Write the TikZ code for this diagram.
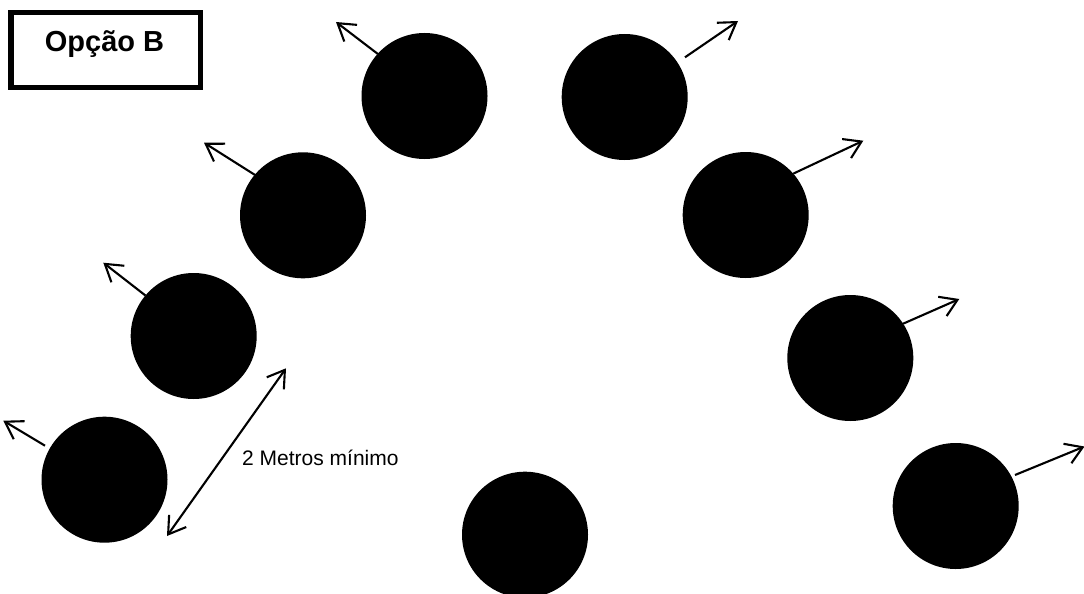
\documentclass[tikz,border=0pt]{standalone}
\usepackage{fontspec}
\setmainfont{Liberation Sans}
\usetikzlibrary{arrows.meta,calc}
\tikzset{
  barb/.tip={Straight Barb[length=16.5pt, width=21pt, line width=2.1pt]},
  seat/.style={circle, fill=black, minimum size=126pt, inner sep=0pt, outer sep=0pt},
  facing/.style={line width=2.1pt, -{barb}},
  span/.style={line width=2.1pt, {barb}-{barb}},
  titlebox/.style={draw, line width=5.5pt, minimum width=189.5pt, minimum height=74.5pt, inner sep=0pt},
  label/.style={inner sep=0pt, font=\fontsize{21}{25}\selectfont},
  title/.style={inner sep=0pt, font=\fontsize{29}{34}\selectfont\bfseries}
}
\begin{document}
\begin{tikzpicture}[x=1pt, y=-1pt]
  \useasboundingbox (0,0) rectangle (1084,594);

  % title box
  \node[titlebox] (box) at (105.5,50) {};
  \node[title, anchor=base] (name) at (104.5,51.5) {Opção B};

  % seats arranged on an arc
  \node[seat] (c1) at (424.5,96) {};
  \node[seat] (c2) at (624.7,97) {};
  \node[seat] (c3) at (303,215.3) {};
  \node[seat] (c4) at (745.7,215) {};
  \node[seat] (c5) at (193.7,336) {};
  \node[seat] (c6) at (850.3,358) {};
  \node[seat] (c7) at (104.5,479.7) {};
  \node[seat] (c8) at (525,534.7) {};
  \node[seat] (c9) at (955.7,506) {};

  % arrow tips showing facing direction
  \coordinate (t1) at (336,22);
  \coordinate (t2) at (738,21);
  \coordinate (t3) at (204,142.7);
  \coordinate (t4) at (863.3,140.7);
  \coordinate (t5) at (103.3,262.7);
  \coordinate (t6) at (959.3,299);
  \coordinate (t7) at (3.3,420.7);
  \coordinate (t9) at (1084.5,446.5);

  \draw[facing] (c1.138.5) -- (t1);
  \draw[facing] ($(c2.center)+(60.3,-39.7)$) -- (t2);
  \draw[facing] (c3.140) -- (t3);
  \draw[facing] (c4.41.8) -- (t4);
  \draw[facing] (c5.140.6) -- (t5);
  \draw[facing] (c6.33.7) -- (t6);
  \draw[facing] ($(c7.center)+(-59.5,-34)$) -- (t7);
  \draw[facing] ($(c9.center)+(59.3,-31)$) -- (t9);

  % minimum distance marker
  \coordinate (d1) at (167,536);
  \coordinate (d2) at (286,368.3);
  \draw[span] (d1) -- (d2);
  \node[label, anchor=base west] (dist) at (242,465) {2 Metros mínimo};
\end{tikzpicture}
\end{document}
